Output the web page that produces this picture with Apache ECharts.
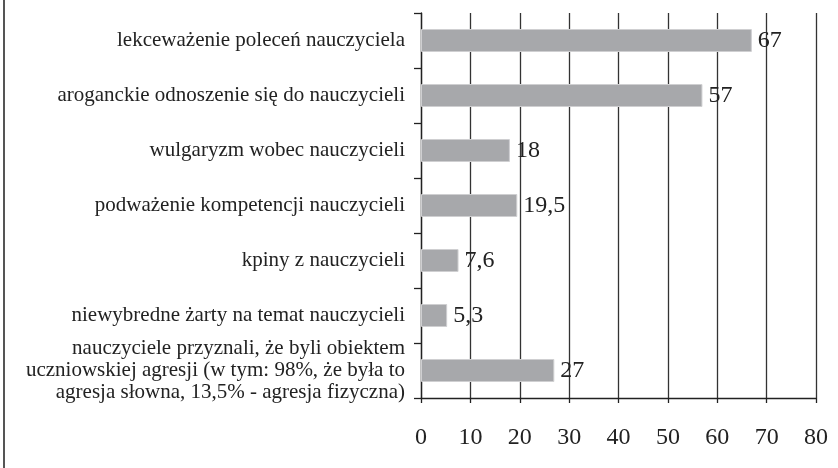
<!DOCTYPE html>
<html>
<head>
<meta charset="utf-8">
<title>agresja</title>
<script src="https://cdn.jsdelivr.net/npm/echarts@6/dist/echarts.min.js"></script>
<style>
html,body{margin:0;padding:0;background:#fff;}
#main{width:838px;height:468px;}
</style>
</head>
<body>
<div id="main"></div>
<script type="text/javascript">
var categories = [
	'lekceważenie poleceń nauczyciela',
	'aroganckie odnoszenie się do nauczycieli',
	'wulgaryzm wobec nauczycieli',
	'podważenie kompetencji nauczycieli',
	'kpiny z nauczycieli',
	'niewybredne żarty na temat nauczycieli',
	'nauczyciele przyznali, że byli obiektem\nuczniowskiej agresji (w tym: 98%, że była to\nagresja słowna, 13,5% - agresja fizyczna)'
];
var values = [67, 57, 18, 19.5, 7.6, 5.3, 27];
var xTicks = [0, 10, 20, 30, 40, 50, 60, 70, 80];

var serif = '"Liberation Serif", "DejaVu Serif", serif';
var myChart = echarts.init(document.getElementById('main'));

var option = {
	animation: false,
	grid: {left: 421, right: 22, top: 13, bottom: 70},
	graphic: [{
		type: 'line',
		shape: {x1: 4, y1: 0, x2: 4, y2: 468},
		style: {stroke: '#555', lineWidth: 2}
	}],
	xAxis: {
		type: 'value',
		min: xTicks[0],
		max: xTicks[xTicks.length - 1],
		interval: 10,
		axisLine: {show: true, lineStyle: {color: '#222', width: 1.3}},
		axisTick: {show: true, length: 5, lineStyle: {color: '#222', width: 1.3}},
		splitLine: {show: true, lineStyle: {color: '#333', width: 1.3}},
		axisLabel: {margin: 28, fontFamily: serif, fontSize: 24, color: '#222'}
	},
	yAxis: {
		type: 'category',
		inverse: true,
		data: categories,
		axisLine: {show: true, lineStyle: {color: '#222', width: 1.3}},
		axisTick: {show: true, length: 7, inside: false, lineStyle: {color: '#222', width: 1.3}},
		axisLabel: {margin: 16, fontFamily: serif, fontSize: 21, lineHeight: 22, color: '#222', align: 'right'}
	},
	series: [{
		type: 'bar',
		data: values,
		barWidth: 23,
		itemStyle: {color: '#a7a8ab', borderColor: '#cfcfd1', borderWidth: 1},
		label: {
			show: true,
			position: 'right',
			distance: 6,
			fontFamily: serif,
			fontSize: 24,
			color: '#222',
			formatter: function (p) { return String(p.value).replace('.', ','); }
		}
	}]
};
myChart.setOption(option);
</script>
</body>
</html>
